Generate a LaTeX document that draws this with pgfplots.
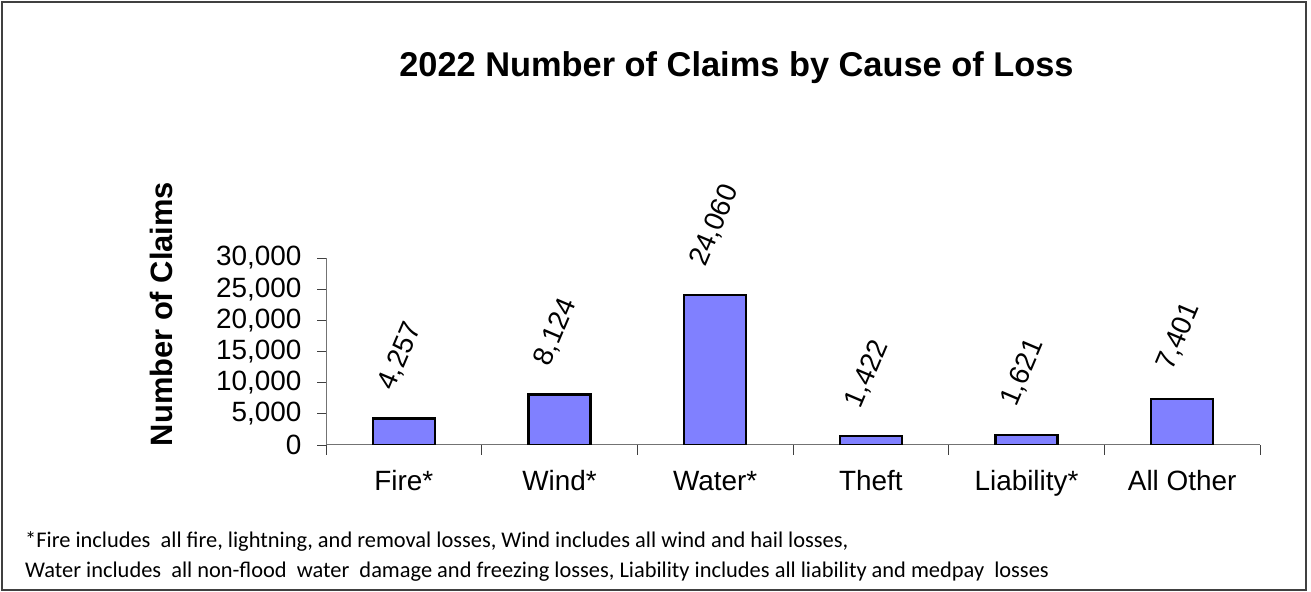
\documentclass[border=0pt]{standalone}
\usepackage{fontspec}
\setmainfont{Liberation Sans}
\newfontfamily\calibri{Carlito}
\usepackage{pgfplots}
\pgfplotsset{compat=1.18}
\definecolor{barblue}{HTML}{8080FF}
\begin{document}
\begin{tikzpicture}
\useasboundingbox (0,0) rectangle (1311bp,592bp);
\draw[black!75, line width=1.2bp] (2bp,2bp) rectangle (1306bp,590bp);
\begin{axis}[
  at={(326bp,147bp)}, anchor=south west,
  scale only axis, width=934bp, height=187bp,
  xmin=-0.5, xmax=5.5, ymin=0, ymax=30000,
  axis x line*=bottom, axis y line*=left,
  axis line style={draw=black!55, line width=1bp},
  ybar, bar width=62bp,
  xtick={0,...,5},
  xticklabels={Fire*, Wind*, Water*, Theft, Liability*, All Other},
  minor xtick={-0.5,0.5,...,5.5},
  ytick={0,5000,...,30000},
  tick align=outside,
  major tick length=9bp, minor tick length=10bp,
  major x tick style={draw=none},
  every tick/.style={black!75, line width=0.9bp},
  scaled y ticks=false,
  /pgf/number format/.cd, 1000 sep={,}, fixed, assume math mode=true,
  /pgfplots/.cd,
  tick label style={font=\fontsize{28}{28}\selectfont},
  yticklabel style={xshift=-12bp},
  xticklabel style={text height=20bp, text depth=6bp, yshift=-13bp},
  nodes near coords,
  every node near coord/.style={xshift=-19bp, yshift=26bp, rotate=67, anchor=west, font=\fontsize{28}{28}\selectfont, black},
]
\addplot[fill=barblue, draw=black, line width=2.4bp] coordinates {
(0,4257) (1,8124) (2,24060) (3,1422) (4,1621) (5,7401)
};
\end{axis}
\node[font=\bfseries\fontsize{34.5}{34.5}\selectfont, anchor=base] at (736.5bp,515bp) {2022 Number of Claims by Cause of Loss};
\node[font=\bfseries\fontsize{31}{31}\selectfont, rotate=90] at (161bp,278bp) {Number of Claims};
\node[font=\calibri\fontsize{22.5}{22.5}\selectfont, anchor=base west, inner sep=0pt] at (25bp,44bp) {*Fire includes~ all fire, lightning, and removal losses, Wind includes all wind and hail losses,};
\node[font=\calibri\fontsize{22.5}{22.5}\selectfont, anchor=base west, inner sep=0pt] at (25bp,15bp) {Water includes~ all non-flood~ water~ damage and freezing losses, Liability includes all liability and medpay~ losses};
\end{tikzpicture}
\end{document}
